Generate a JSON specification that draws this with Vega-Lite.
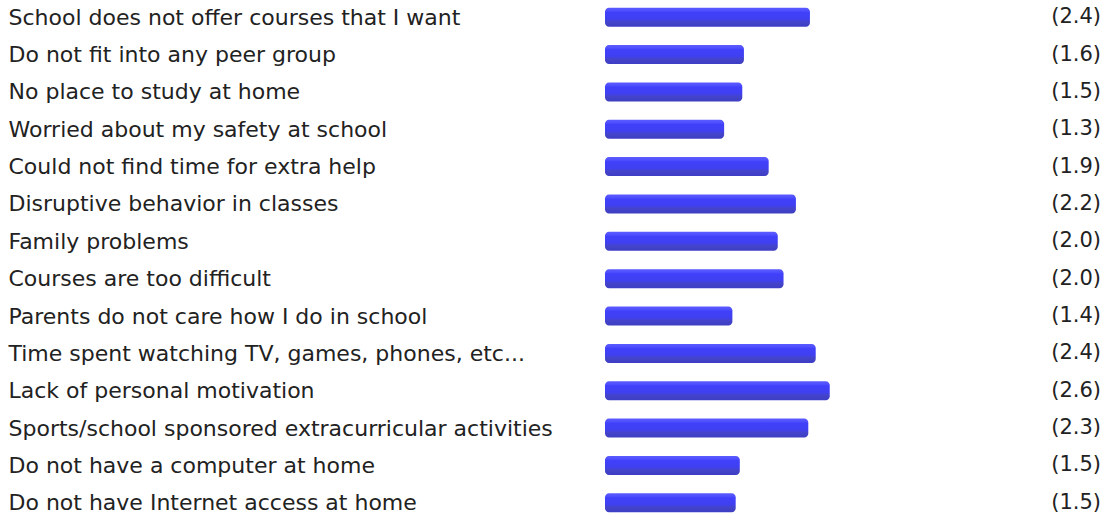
{
  "$schema": "https://vega.github.io/schema/vega-lite/v6.json",
  "autosize": "none",
  "width": 496,
  "height": 516,
  "padding": {"left": 605, "top": 2, "right": 11, "bottom": 0},
  "background": "white",
  "config": {"view": {"stroke": null}, "font": "DejaVu Sans"},
  "data": {
    "values": [
      {"reason": "School does not offer courses that I want", "score": 2.36},
      {"reason": "Do not fit into any peer group", "score": 1.56},
      {"reason": "No place to study at home", "score": 1.54},
      {"reason": "Worried about my safety at school", "score": 1.32},
      {"reason": "Could not find time for extra help", "score": 1.86},
      {"reason": "Disruptive behavior in classes", "score": 2.19},
      {"reason": "Family problems", "score": 1.97},
      {"reason": "Courses are too difficult", "score": 2.04},
      {"reason": "Parents do not care how I do in school", "score": 1.42},
      {"reason": "Time spent watching TV, games, phones, etc...", "score": 2.43},
      {"reason": "Lack of personal motivation", "score": 2.6},
      {"reason": "Sports/school sponsored extracurricular activities", "score": 2.34},
      {"reason": "Do not have a computer at home", "score": 1.51},
      {"reason": "Do not have Internet access at home", "score": 1.46}
    ]
  },
  "transform": [
    {"calculate": "'(' + format(datum.score, '.1f') + ')'", "as": "label"}
  ],
  "encoding": {
    "y": {
      "field": "reason",
      "type": "nominal",
      "sort": null,
      "scale": {"type": "point", "padding": 0.4075},
      "axis": {
        "title": null,
        "domain": false,
        "ticks": false,
        "tickSize": 0,
        "labelAlign": "left",
        "labelBaseline": "middle",
        "labelPadding": 597,
        "labelFontSize": 22,
        "labelColor": "#222222",
        "labelFont": "DejaVu Sans",
        "labelLimit": 0,
        "grid": false
      }
    }
  },
  "layer": [
    {
      "mark": {
        "type": "bar",
        "size": 19,
        "cornerRadiusEnd": 4,
        "color": {
          "gradient": "linear",
          "x1": 0, "y1": 0, "x2": 0, "y2": 1,
          "stops": [
            {"offset": 0, "color": "#5c5cff"},
            {"offset": 0.15, "color": "#5050ff"},
            {"offset": 0.25, "color": "#4040fb"},
            {"offset": 0.6, "color": "#4040f0"},
            {"offset": 0.72, "color": "#4444cc"},
            {"offset": 1, "color": "#3e3ec4"}
          ]
        }
      },
      "encoding": {
        "x": {
          "field": "score",
          "type": "quantitative",
          "scale": {"domain": [-0.124, 5.888], "zero": false, "nice": false},
          "axis": null
        },
        "x2": {"datum": -0.124}
      }
    },
    {
      "mark": {
        "type": "text",
        "align": "right",
        "baseline": "middle",
        "fontSize": 21,
        "font": "DejaVu Sans",
        "color": "#222222"
      },
      "encoding": {
        "x": {"datum": 5.888},
        "text": {"field": "label"}
      }
    }
  ]
}
